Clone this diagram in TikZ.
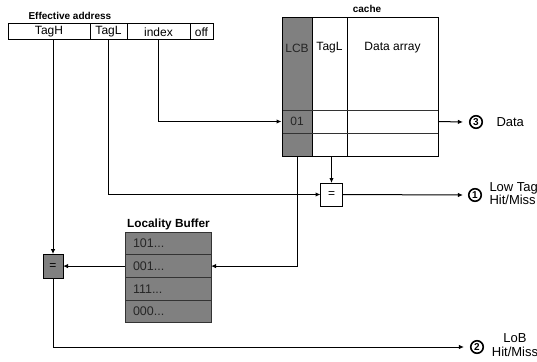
\documentclass[tikz,border=0pt]{standalone}
\usepackage{fontspec}
\setmainfont{Liberation Sans}
\usetikzlibrary{arrows.meta}
\newcommand{\fsz}[1]{\fontsize{#1}{#1}\selectfont}
\definecolor{cellgray}{HTML}{808080}
\definecolor{rowline}{HTML}{333333}
\begin{document}
\begin{tikzpicture}[x=1pt,y=-1pt,
  line width=1pt,
  field/.style={draw, inner sep=0pt, outer sep=0pt, font=\fsz{12}, minimum height=16pt},
  column/.style={draw, inner sep=0pt, outer sep=0pt, minimum height=138pt},
  lbrow/.style={draw=rowline, fill=cellgray, inner sep=0pt, outer sep=0pt, minimum width=86pt, minimum height=22.75pt, font=\fsz{12.5}, text=black!85},
  cmp/.style={draw, inner sep=0pt, outer sep=0pt, font=\fsz{12}},
  title/.style={font=\bfseries\fsz{10}, inner sep=0pt},
  txt/.style={font=\fsz{12}, inner sep=0pt},
  outtxt/.style={font=\fsz{13}, inner sep=0pt},
  num/.style={circle, draw, line width=1.6pt, inner sep=0pt, minimum size=12.5pt, font=\bfseries\fsz{10}},
  arr/.style={-{Latex[length=5pt,width=4.5pt]}},
]
\useasboundingbox (0,0) rectangle (537,361);

% effective address fields
\node[title, anchor=base west] (eatitle) at (28,19.5) {Effective address};
\node[field, minimum width=82pt] (tagh) at (49,32) {TagH};
\node[field, minimum width=37pt] (tagl) at (108.5,32) {TagL};
\node[field, minimum width=63pt] (index) at (158.5,32) {index};
\node[field, minimum width=23pt] (off) at (201.5,32) {off};

% cache with its three columns
\node[title, anchor=base] (cachetitle) at (367,13) {cache};
\node[column, fill=cellgray, minimum width=30pt] (lcb) at (297,87) {};
\node[column, minimum width=35pt] (ctagl) at (329.5,87) {};
\node[column, minimum width=91pt] (cdata) at (392.5,87) {};
\draw[rowline] (lcb.west |- 0,110) -- (cdata.east |- 0,110);
\draw[rowline] (lcb.west |- 0,133) -- (cdata.east |- 0,133);
\draw (lcb.north west) rectangle (cdata.south east);
\node[txt, text=black!85] (lcblabel) at (297,48) {LCB};
\node[txt] (tagllabel) at (329.5,48) {TagL};
\node[txt] (datalabel) at (392.5,48) {Data array};
\node[txt, text=black!85, minimum width=30pt, minimum height=23pt] (row01) at (297,121.5) {01};

% locality buffer
\node[font=\bfseries\fsz{11.8}, inner sep=0pt, anchor=base] (lbtitle) at (168.5,227.7) {Locality Buffer};
\node[lbrow] (lb1) at (168,243.4) {\makebox[70pt][l]{101...}};
\node[lbrow] (lb2) at (168,266.1) {\makebox[70pt][l]{001...}};
\node[lbrow] (lb3) at (168,288.9) {\makebox[70pt][l]{111...}};
\node[lbrow] (lb4) at (168,311.6) {\makebox[70pt][l]{000...}};

% comparators
\node[cmp, fill=white, minimum width=22pt, minimum height=23pt] (cmp1) at (331.5,194.5) {=};
\node[cmp, fill=cellgray, minimum width=20pt, minimum height=24pt] (cmp2) at (53,266.1) {=};

% outputs
\node[num] (c3) at (476,122) {3};
\node[outtxt, anchor=west] (dataout) at (496,122.5) {Data};
\node[num] (c1) at (475,195) {1};
\node[outtxt, anchor=north west, align=left] (lowtag) at (489,182) {Low Tag\\[0.5pt]Hit/Miss};
\node[num] (c2) at (477,347) {2};
\node[outtxt, anchor=center, align=center] (lob) at (515,345) {LoB\\[0.5pt]Hit/Miss};

% connectors
\draw[arr] (index.south) |- (row01.west);
\draw[arr] (cdata.east |- row01) -- ([xshift=-6pt]c3.west);
\draw[arr] (cmp1 |- ctagl.south) -- (cmp1.north);
\draw[arr] (tagl.south) |- (cmp1.west);
\draw[arr] (cmp1.east) -- ([xshift=-5pt]c1.west);
\draw[arr] (lcb.south) |- (lb2.east);
\draw[arr] (tagh.south -| cmp2.north) -- (cmp2.north);
\draw[arr] (lb2.west) -- (cmp2.east);
\draw[arr] (cmp2.south) |- ([xshift=-6pt]c2.west);
\end{tikzpicture}
\end{document}
